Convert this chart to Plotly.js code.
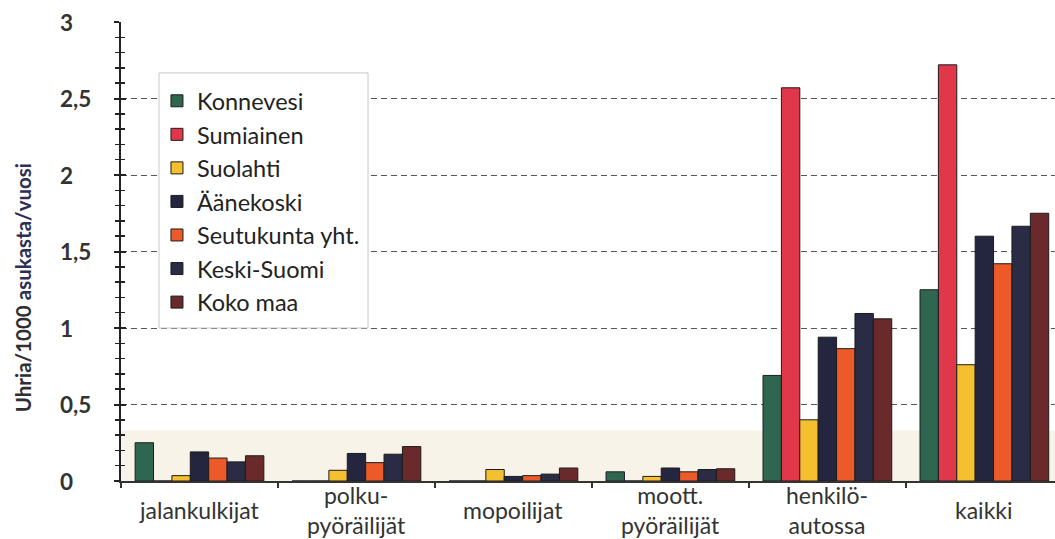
<!DOCTYPE html>
<html>
<head>
<meta charset="utf-8">
<script src="https://cdn.plot.ly/plotly-3.0.1.min.js"></script>
<style>html,body{margin:0;padding:0;background:#fff;}#chart{width:1055px;height:539px;}</style>
</head>
<body>
<div id="chart"></div>
<script>
// ---- data ----
const categories = ['jalankulkijat', 'polkupyöräilijät', 'mopoilijat', 'moott. pyöräilijät', 'henkilöautossa', 'kaikki'];
const categoryLabels = ['jalankulkijat', 'polku-<br>pyöräilijät', 'mopoilijat', 'moott.<br>pyöräilijät', 'henkilö-<br>autossa', 'kaikki'];
const seriesNames = ['Konnevesi', 'Sumiainen', 'Suolahti', 'Äänekoski', 'Seutukunta yht.', 'Keski-Suomi', 'Koko maa'];
const konnevesi  = [0.25, 0, 0, 0.06, 0.69, 1.25];
const sumiainen  = [0, 0, 0, 0, 2.57, 2.72];
const suolahti   = [0.035, 0.07, 0.075, 0.03, 0.40, 0.76];
const aanekoski  = [0.19, 0.18, 0.03, 0.085, 0.94, 1.60];
const seutukunta = [0.15, 0.12, 0.035, 0.06, 0.865, 1.42];
const keskiSuomi = [0.125, 0.175, 0.045, 0.075, 1.095, 1.665];
const kokoMaa    = [0.165, 0.225, 0.085, 0.08, 1.06, 1.75];
const yTickVals = [0, 0.5, 1, 1.5, 2, 2.5, 3];
const yTickText = ['0', '0,5', '1', '1,5', '2', '2,5', '3'];
const yTitleParts = ['Uhria/1000', 'asukasta/vuosi'];

// ---- styles ----
const seriesValues = [konnevesi, sumiainen, suolahti, aanekoski, seutukunta, keskiSuomi, kokoMaa];
const colors = ['#2f6650', '#e0384a', '#f5c030', '#24263f', '#ec5a2a', '#2a2c45', '#6a2a2c'];
const FONT = 'Lato, "Open Sans", sans-serif';

const traces = seriesNames.map((name, i) => ({
  type: 'bar',
  name: name,
  x: categories,
  y: seriesValues[i],
  legendgroup: 'g' + i,
  marker: {color: colors[i], line: {color: '#1c1c1c', width: 1}},
  hoverinfo: 'x+y+name'
}));
// helper trace for crossing tick marks on the y axis
traces.push({type: 'scatter', x: [categories[0]], y: [0], yaxis: 'y2', mode: 'markers',
  marker: {opacity: 0}, showlegend: false, hoverinfo: 'skip'});

// category labels (vertically centred like the original)
const annotations = categories.map((c, i) => ({
  x: c, xref: 'x', y: -0.064, yref: 'paper', yanchor: 'middle', xanchor: 'center',
  text: categoryLabels[i], showarrow: false,
  font: {family: FONT, size: 23, color: '#333'}
}));
// y tick labels, left aligned like the original
yTickVals.forEach((v, i) => annotations.push({
  x: -0.0675, xref: 'paper', y: v, yref: 'y', xanchor: 'left', yanchor: 'middle',
  text: yTickText[i], showarrow: false,
  font: {family: FONT, size: 22.5, color: '#333', weight: 'bold'}
}));
// y title
annotations.push({
  x: -0.1049, xref: 'paper', y: 0.42, yref: 'paper', xanchor: 'center', yanchor: 'middle',
  textangle: -90, showarrow: false,
  text: yTitleParts[0] + ' <span style="color:#2d2f55">' + yTitleParts[1] + '</span>',
  font: {family: FONT, size: 20.5, color: '#2e2e33', weight: 'bold'}
});

const layout = {
  width: 1055, height: 539,
  margin: {l: 121, r: 0, t: 22, b: 58},
  paper_bgcolor: '#ffffff', plot_bgcolor: 'rgba(0,0,0,0)',
  separators: ', ',
  barmode: 'group', bargap: 0.18, bargroupgap: 0,
  font: {family: FONT, color: '#333'},
  showlegend: true,
  legend: {
    x: 0.0385, y: 0.8758, xanchor: 'left', yanchor: 'top',
    bgcolor: 'rgba(0,0,0,0)', borderwidth: 0,
    font: {family: FONT, size: 23.5, color: '#222'},
    tracegroupgap: 1.5, traceorder: 'normal'
  },
  xaxis: {
    type: 'category', range: [-0.5, 5.45],
    showticklabels: false, ticks: 'outside', tickson: 'boundaries', ticklen: 5, tickwidth: 2, tickcolor: '#333',
    showline: true, linecolor: '#333', linewidth: 2, showgrid: false, zeroline: false, fixedrange: true
  },
  yaxis: {
    range: [0, 3], tickvals: yTickVals, ticks: 'outside', ticklen: 5, tickwidth: 2, tickcolor: '#222',
    showticklabels: false,
    minor: {dtick: 0.1, tick0: 0, ticks: 'outside', ticklen: 4, tickwidth: 1.5, tickcolor: '#222', showgrid: false},
    showline: true, linecolor: '#222', linewidth: 2,
    showgrid: true, gridcolor: '#555', gridwidth: 1, griddash: '6px,4px',
    zeroline: false, fixedrange: true
  },
  yaxis2: {
    overlaying: 'y', side: 'left', anchor: 'x', range: [0, 3], tickvals: yTickVals,
    ticks: 'inside', ticklen: 5, tickwidth: 2, tickcolor: '#222', showticklabels: false,
    minor: {dtick: 0.1, tick0: 0, ticks: 'inside', ticklen: 4, tickwidth: 1.5, tickcolor: '#222', showgrid: false},
    showgrid: false, zeroline: false, showline: false, fixedrange: true
  },
  shapes: [
    {type: 'rect', layer: 'below', xref: 'paper', yref: 'y', x0: 0, x1: 1, y0: 0, y1: 0.33,
     fillcolor: '#f8f3e9', line: {width: 0}},
    // legend frame (drawn as a shape so its size matches the original)
    {type: 'rect', layer: 'above', xref: 'paper', yref: 'paper', x0: 0.0407, x1: 0.2645, y0: 0.3333, y1: 0.889,
     fillcolor: '#ffffff', line: {color: '#c8c8c8', width: 1}}
  ],
  annotations: annotations
};

Plotly.newPlot('chart', traces, layout, {displayModeBar: false, staticPlot: true});
</script>
</body>
</html>
